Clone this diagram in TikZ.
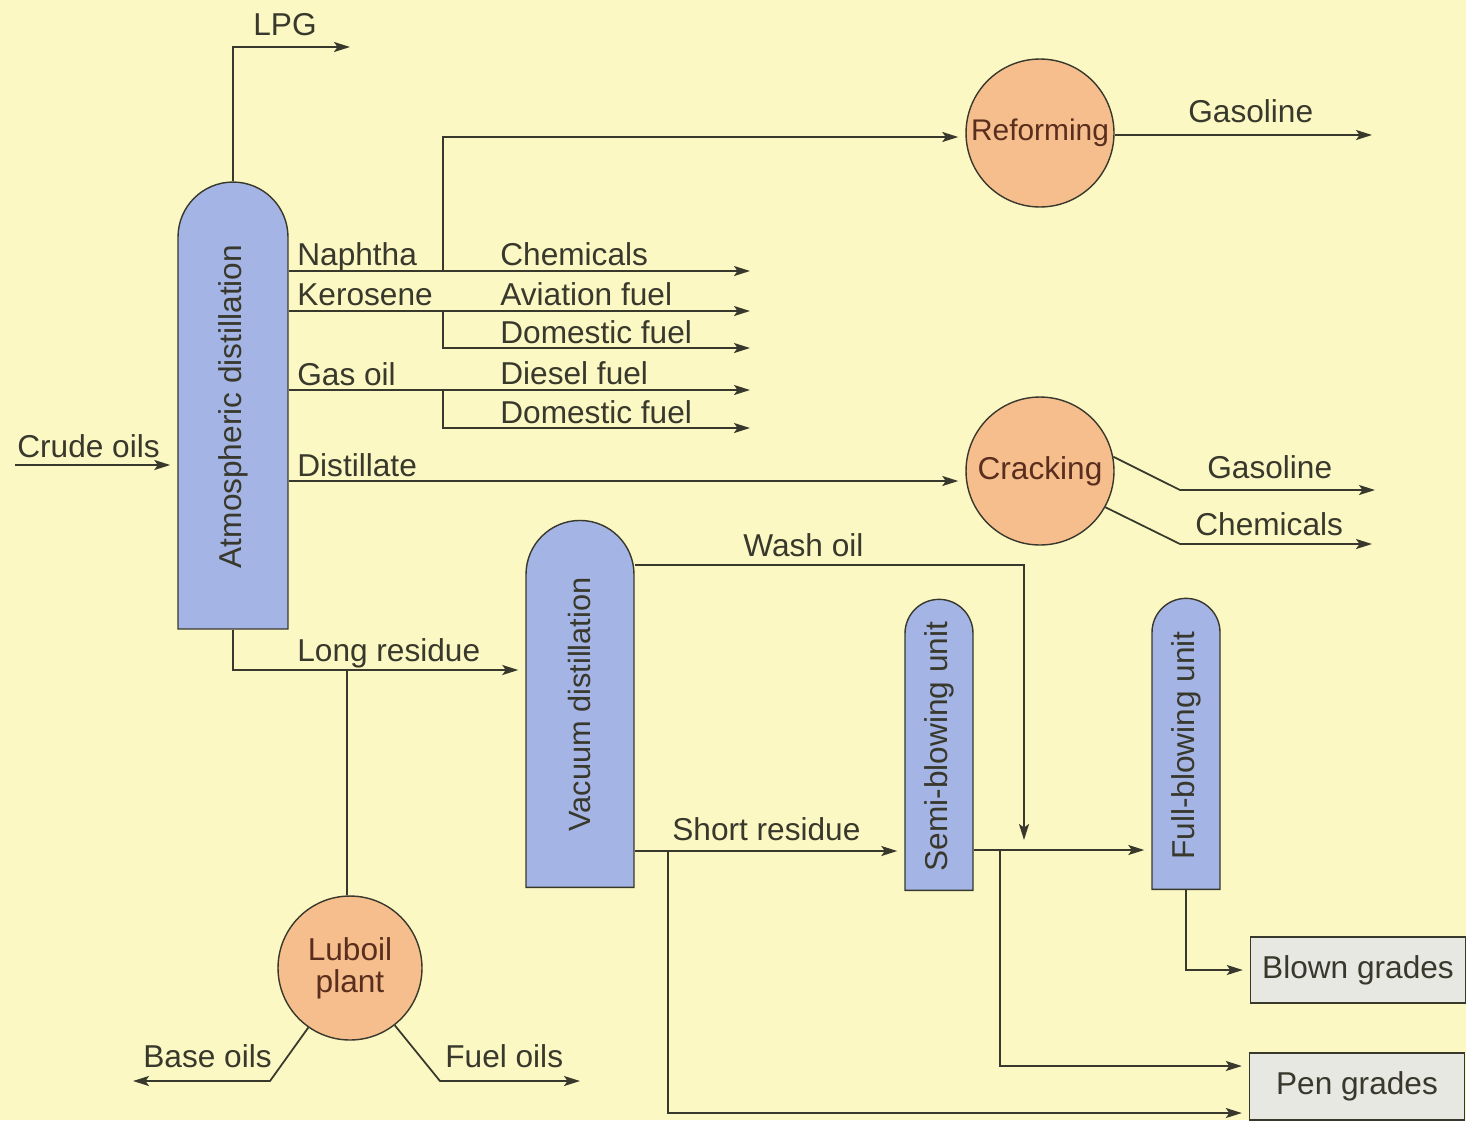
\documentclass[tikz,border=0pt]{standalone}
\usepackage{fontspec}
\setmainfont{Liberation Sans}
\usepackage{tikz}
\usetikzlibrary{positioning,calc,arrows.meta,shapes.misc}
\definecolor{pbg}{HTML}{FBF8C3}
\definecolor{pblue}{HTML}{A4B4E4}
\definecolor{porange}{HTML}{F5BE8C}
\definecolor{pgreyb}{HTML}{E8E8E2}
\definecolor{pdark}{HTML}{38382C}
\definecolor{pbrown}{HTML}{5A2E1E}

\begin{document}
\begin{tikzpicture}[x=0.02cm, y=-0.02cm, font=\fontsize{18}{21}\selectfont,
  col/.style={draw=pdark, fill=pblue, rounded rectangle, rounded rectangle left arc=none,
              rotate=90, line width=0.8pt, text=pdark, inner sep=0pt},
  unit/.style={draw=pdark, fill=porange, circle, line width=0.8pt, text=pbrown,
               align=center, inner sep=0pt, minimum size=2.96cm},
  prod/.style={draw=pdark, fill=pgreyb, line width=0.8pt, text=pdark,
               minimum width=4.3cm, minimum height=1.32cm},
  lbl/.style={anchor=base west, text=pdark, inner sep=0pt},
  arr/.style={-{Stealth[length=3.2mm, width=2mm, inset=0.7mm]}, line width=1pt, draw=pdark},
  feed/.style={arr, shorten >=4pt},
  pipe/.style={line width=1pt, draw=pdark}]
  \fill[pbg] (0,0) rectangle (1466,1120);
  \useasboundingbox (0,0) rectangle (1466,1120);
  % --- columns
  \node[col, minimum width=8.94cm, minimum height=2.2cm] (atm) at (233,406.5) {Atmospheric distillation};
  \node[col, minimum width=7.34cm, minimum height=2.16cm,
        font=\fontsize{17.5}{21}\selectfont] (vac) at (580,704.5) {Vacuum distillation};
  \node[col, minimum width=5.82cm, minimum height=1.36cm] (semi) at (939,746.5) {Semi-blowing unit};
  \node[col, minimum width=5.82cm, minimum height=1.36cm] (full) at (1186,745.5) {Full-blowing unit};
  % --- process units
  \node[unit, font=\fontsize{17}{20}\selectfont] (reform) at (1040,133) {Reforming};
  \node[unit] (crack) at (1040,471) {Cracking};
  \node[unit, minimum size=2.88cm, font=\fontsize{18}{18}\selectfont] (lube) at (350,968) {Luboil\\plant};
  % --- end products
  \node[prod] (blown) at (1358,970) {Blown grades};
  \node[prod, minimum height=1.34cm] (pen) at (1357,1086.5) {Pen grades};
  % --- stream labels
  \node[lbl] (tlpg)   at (253,35)   {LPG};
  \node[lbl] (tcrude) at (17,457)   {Crude oils};
  \node[lbl] (tnaph)  at (297,265)  {Naphtha};
  \node[lbl] (tkero)  at (297,305)  {Kerosene};
  \node[lbl] (tgas)   at (297,385)  {Gas oil};
  \node[lbl] (tdist)  at (297,476)  {Distillate};
  \node[lbl] (tchem)  at (500,265)  {Chemicals};
  \node[lbl] (tavia)  at (500,305)  {Aviation fuel};
  \node[lbl] (tdomA)  at (500,343)  {Domestic fuel};
  \node[lbl] (tdies)  at (500,384)  {Diesel fuel};
  \node[lbl] (tdomB)  at (500,423)  {Domestic fuel};
  \node[lbl] (tgasoA) at (1188,122) {Gasoline};
  \node[lbl] (tgasoB) at (1207,478) {Gasoline};
  \node[lbl] (tchemB) at (1195,535) {Chemicals};
  \node[lbl] (twash)  at (743,556)  {Wash oil};
  \node[lbl] (tlong)  at (297,661)  {Long residue};
  \node[lbl] (tshort) at (672,840)  {Short residue};
  \node[lbl] (tbase)  at (143,1067) {Base oils};
  \node[lbl] (tfuel)  at (445,1067) {Fuel oils};
  % --- free ends and branch points
  \coordinate (lpg)   at (350,47);
  \coordinate (crude) at (15,465);
  \coordinate (naphO) at (750,271);
  \coordinate (keroO) at (750,311);
  \coordinate (domA)  at (750,348);
  \coordinate (gasO)  at (750,390);
  \coordinate (domB)  at (750,428);
  \coordinate (nbr)   at (443,271);
  \coordinate (kbr)   at (443,311);
  \coordinate (gbr)   at (443,390);
  \coordinate (gasoA) at (1372,135);
  \coordinate (ckA)   at (1180,490);
  \coordinate (gasoB) at (1375,490);
  \coordinate (ckB)   at (1180,544);
  \coordinate (chemB) at (1372,544);
  \coordinate (lbr)   at (347,670);
  \coordinate (lbA)   at (270,1081);
  \coordinate (baseO) at (133,1081);
  \coordinate (lbB)   at (440,1081);
  \coordinate (fuelO) at (580,1081);
  \coordinate (wash)  at (1024,840);
  \coordinate (sbr)   at (668,851);
  \coordinate (bbr)   at (1000,850);
  % --- atmospheric column
  \draw[arr]  (atm.east) |- (lpg);
  \draw[feed] (crude) -- (atm.north |- crude);
  \draw[arr]  (atm.south |- naphO) -- (naphO);
  \draw[feed] (nbr) |- (reform.west |- 0,137);
  \draw[arr]  (atm.south |- keroO) -- (keroO);
  \draw[arr]  (kbr) |- (domA);
  \draw[arr]  (atm.south |- gasO) -- (gasO);
  \draw[arr]  (gbr) |- (domB);
  \draw[feed] (atm.south |- 0,481) -- (crack.west |- 0,481);
  \draw[feed] (atm.west) |- (vac.north |- lbr);
  \draw[pipe] (lbr) -- (lbr |- lube.north);
  % --- conversion units
  \draw[arr]  (reform.east |- gasoA) -- (gasoA);
  \draw[arr]  (crack.11) -- (ckA) -- (gasoB);
  \draw[arr]  (crack.-29) -- (ckB) -- (chemB);
  \draw[arr]  (lube.235) -- (lbA) -- (baseO);
  \draw[arr]  (lube.-52) -- (lbB) -- (fuelO);
  % --- bitumen route
  \draw[arr]  (vac.south |- 0,565) -| (wash);
  \draw[feed] (vac.south |- sbr) -- (semi.north |- sbr);
  \draw[feed] (sbr) |- (pen.west |- 0,1113);
  \draw[feed] (semi.south |- bbr) -- (full.north |- bbr);
  \draw[feed] (bbr) |- (pen.west |- 0,1066);
  \draw[feed] (full.west) |- (blown.west);
\end{tikzpicture}
\end{document}
